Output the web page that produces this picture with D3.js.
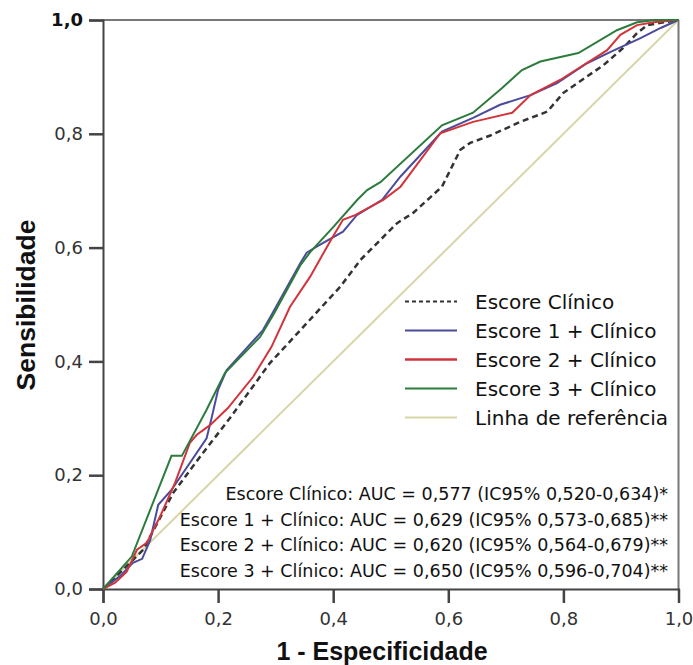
<!DOCTYPE html>
<html>
<head>
<meta charset="utf-8">
<script src="https://cdn.jsdelivr.net/npm/d3@7"></script>
<style>
  body { margin: 0; background: #fff; }
  svg { display: block; }
</style>
</head>
<body>
<div id="roc"></div>
<script>
// ROC curve points (1 - especificidade, sensibilidade)
var clinicoX = [0, 0.052, 0.070, 0.122, 0.169, 0.221, 0.290, 0.343, 0.412, 0.447, 0.511, 0.539, 0.589, 0.621, 0.638, 0.673, 0.725, 0.772, 0.800, 0.870, 0.904, 0.928, 0.946, 0.969, 1];
var clinicoY = [0, 0.051, 0.069, 0.169, 0.233, 0.301, 0.397, 0.455, 0.531, 0.578, 0.643, 0.661, 0.707, 0.772, 0.784, 0.797, 0.821, 0.839, 0.872, 0.921, 0.951, 0.977, 0.991, 0.995, 1];

var escore1X = [0, 0.030, 0.052, 0.068, 0.082, 0.096, 0.119, 0.180, 0.189, 0.200, 0.215, 0.278, 0.293, 0.343, 0.354, 0.372, 0.417, 0.441, 0.485, 0.517, 0.589, 0.643, 0.690, 0.743, 0.789, 0.841, 0.882, 0.934, 0.969, 1];
var escore1Y = [0, 0.023, 0.046, 0.053, 0.086, 0.148, 0.174, 0.265, 0.302, 0.350, 0.385, 0.455, 0.482, 0.573, 0.591, 0.602, 0.628, 0.657, 0.684, 0.725, 0.804, 0.828, 0.851, 0.868, 0.889, 0.924, 0.944, 0.968, 0.986, 1];

var escore2X = [0, 0.021, 0.041, 0.059, 0.076, 0.099, 0.125, 0.151, 0.163, 0.186, 0.217, 0.261, 0.293, 0.325, 0.360, 0.398, 0.417, 0.438, 0.487, 0.517, 0.586, 0.643, 0.711, 0.743, 0.795, 0.876, 0.899, 0.928, 0.957, 1];
var escore2Y = [0, 0.011, 0.030, 0.069, 0.081, 0.127, 0.186, 0.257, 0.271, 0.288, 0.318, 0.373, 0.426, 0.496, 0.549, 0.617, 0.649, 0.657, 0.684, 0.707, 0.801, 0.821, 0.837, 0.868, 0.895, 0.947, 0.974, 0.991, 0.996, 1];

var escore3X = [0, 0.050, 0.119, 0.137, 0.180, 0.212, 0.273, 0.296, 0.343, 0.360, 0.400, 0.442, 0.459, 0.482, 0.589, 0.643, 0.693, 0.728, 0.760, 0.826, 0.893, 0.928, 0.960, 1];
var escore3Y = [0, 0.057, 0.234, 0.234, 0.315, 0.380, 0.443, 0.482, 0.569, 0.592, 0.636, 0.684, 0.701, 0.715, 0.815, 0.837, 0.880, 0.912, 0.927, 0.942, 0.982, 0.996, 1, 1];

var referenciaX = [0, 1];
var referenciaY = [0, 1];

var seriesNames = ["Escore Clínico", "Escore 1 + Clínico", "Escore 2 + Clínico", "Escore 3 + Clínico", "Linha de referência"];
var aucLabels = [
  "Escore Clínico: AUC = 0,577 (IC95% 0,520-0,634)*",
  "Escore 1 + Clínico: AUC = 0,629 (IC95% 0,573-0,685)**",
  "Escore 2 + Clínico: AUC = 0,620 (IC95% 0,564-0,679)**",
  "Escore 3 + Clínico: AUC = 0,650 (IC95% 0,596-0,704)**"
];
var tickValues = [0, 0.2, 0.4, 0.6, 0.8, 1.0];

var w = 693;
var h = 665;
var plotLeft = 103, plotRight = 678.5, plotTop = 20, plotBottom = 589;

var svg = d3.select("#roc")
    .append("svg")
    .attr("width", w)
    .attr("height", h);

var x = d3.scaleLinear().domain([0, 1]).range([plotLeft, plotRight]);
var y = d3.scaleLinear().domain([0, 1]).range([plotBottom, plotTop]);

function fmt(d) {
  return d3.format(".1f")(d).replace(".", ",");
}

// frame top / right
svg.append("line")
    .attr("x1", plotLeft).attr("x2", plotRight)
    .attr("y1", plotTop).attr("y2", plotTop)
    .style("stroke", "#777").style("stroke-width", 2);
svg.append("line")
    .attr("x1", plotRight).attr("x2", plotRight)
    .attr("y1", plotTop).attr("y2", plotBottom)
    .style("stroke", "#777").style("stroke-width", 2);

// axes
var xAxis = svg.append("g")
    .attr("transform", "translate(0," + plotBottom + ")")
    .call(d3.axisBottom(x).tickValues(tickValues).tickFormat(fmt).tickSize(14).tickPadding(9));
var yAxis = svg.append("g")
    .attr("transform", "translate(" + plotLeft + ",0)")
    .call(d3.axisLeft(y).tickValues(tickValues).tickFormat(fmt).tickSize(14).tickPadding(6));

[xAxis, yAxis].forEach(function(g) {
  g.select(".domain").style("stroke", "#444").style("stroke-width", 2);
  g.selectAll(".tick line").style("stroke", "#444").style("stroke-width", 2.5);
  g.selectAll(".tick text")
      .style("font-family", "DejaVu Sans")
      .style("font-size", "18px")
      .style("fill", "#333");
});
yAxis.selectAll(".tick text")
    .filter(function(d) { return d === 1; })
    .style("font-weight", "bold")
    .style("fill", "#111");

// curves
var line = d3.line()
    .x(function(d) { return x(d[0]); })
    .y(function(d) { return y(d[1]); });

function pairs(xs, ys) {
  return xs.map(function(v, i) { return [v, ys[i]]; });
}

var curves = [
  { data: pairs(referenciaX, referenciaY), color: "#d8d6a8", width: 2, dash: null },
  { data: pairs(clinicoX, clinicoY), color: "#333333", width: 2.5, dash: "6,4" },
  { data: pairs(escore1X, escore1Y), color: "#4b4b9c", width: 2, dash: null },
  { data: pairs(escore2X, escore2Y), color: "#d2343c", width: 2, dash: null },
  { data: pairs(escore3X, escore3Y), color: "#2e7b3e", width: 2, dash: null }
];

svg.selectAll("path.curve")
    .data(curves)
    .enter()
    .append("path")
    .attr("class", "curve")
    .attr("d", function(d) { return line(d.data); })
    .style("fill", "none")
    .style("stroke", function(d) { return d.color; })
    .style("stroke-width", function(d) { return d.width; })
    .style("stroke-dasharray", function(d) { return d.dash; });

// legend
var legendItems = [
  { name: seriesNames[0], color: "#333333", width: 2, dash: "4,3" },
  { name: seriesNames[1], color: "#4b4b9c", width: 2, dash: null },
  { name: seriesNames[2], color: "#d2343c", width: 2.5, dash: null },
  { name: seriesNames[3], color: "#2e7b3e", width: 2, dash: null },
  { name: seriesNames[4], color: "#d8d6a8", width: 2, dash: null }
];

var legend = svg.append("g");
var rows = legend.selectAll("g")
    .data(legendItems)
    .enter()
    .append("g")
    .attr("transform", function(d, i) { return "translate(405," + (301.5 + i * 29) + ")"; });

rows.append("line")
    .attr("x1", 0).attr("x2", 52)
    .attr("y1", 0).attr("y2", 0)
    .style("stroke", function(d) { return d.color; })
    .style("stroke-width", function(d) { return d.width; })
    .style("stroke-dasharray", function(d) { return d.dash; });

rows.append("text")
    .attr("x", 70)
    .attr("y", 0)
    .attr("dy", "0.36em")
    .style("font-family", "DejaVu Sans")
    .style("font-size", "20px")
    .style("fill", "#111")
    .text(function(d) { return d.name; });

// AUC annotations
svg.selectAll("text.auc")
    .data(aucLabels)
    .enter()
    .append("text")
    .attr("class", "auc")
    .attr("x", 668)
    .attr("y", function(d, i) { return 493.5 + i * 25.7; })
    .attr("dy", "0.36em")
    .attr("text-anchor", "end")
    .style("font-family", "DejaVu Sans")
    .style("font-size", "17.5px")
    .style("fill", "#111")
    .text(function(d) { return d; });

// axis titles
svg.append("text")
    .attr("x", 382)
    .attr("y", 660)
    .attr("text-anchor", "middle")
    .style("font-family", "Liberation Sans, Arial, sans-serif")
    .style("font-weight", "bold")
    .style("font-size", "25px")
    .style("fill", "#111")
    .text("1 - Especificidade");

svg.append("text")
    .attr("transform", "translate(35,305) rotate(-90)")
    .attr("text-anchor", "middle")
    .style("font-family", "Liberation Sans, Arial, sans-serif")
    .style("font-weight", "bold")
    .style("font-size", "26.5px")
    .style("fill", "#111")
    .text("Sensibilidade");
</script>
</body>
</html>
